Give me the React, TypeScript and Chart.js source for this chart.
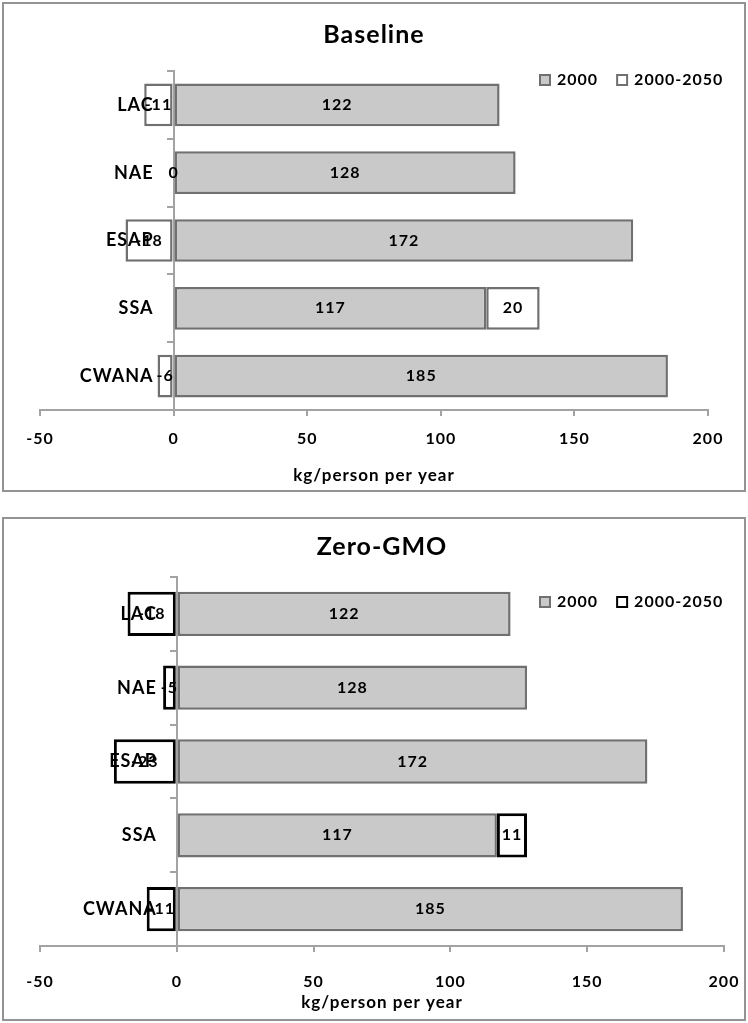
import React, { useEffect, useRef } from 'react';
import { Chart, registerables } from 'chart.js';

Chart.register(...registerables);

// ---- data ----
const regions = ['LAC', 'NAE', 'ESAP', 'SSA', 'CWANA'];
const seriesNames = ['2000', '2000-2050'];
const consumption2000 = [122, 128, 172, 117, 185];
const changeBaseline = [-11, 0, -18, 20, -6];
const changeZeroGmo = [-18, -5, -23, 11, -11];
const xTickValues = [-50, 0, 50, 100, 150, 200];
const axisTitle = 'kg/person per year';

const FONT = 'Lato, "Open Sans", "DejaVu Sans", sans-serif';
const AXIS_GREY = '#a3a3a3';
const BAR_FILL = '#c9c9c9';
const BAR_EDGE = '#707070';

// Excel-like wide text spacing for every string on the canvas
const textSpacing = {
  id: 'textSpacing',
  beforeLayout(chart: any, _a: any, o: any) {
    chart.ctx.letterSpacing = o.value || '0px';
  },
  beforeDraw(chart: any, _a: any, o: any) {
    chart.ctx.letterSpacing = o.value || '0px';
  },
};

// Region names sit left of the zero line
const regionLabels = {
  id: 'regionLabels',
  afterDatasetsDraw(chart: any, _a: any, o: any) {
    const { ctx } = chart;
    const xs = chart.scales.x;
    const ys = chart.scales.y;
    const xRight = xs.getPixelForValue(0) - o.gap;
    ctx.save();
    ctx.font = `bold ${o.size}px ${FONT}`;
    ctx.fillStyle = '#000';
    ctx.textAlign = 'right';
    ctx.textBaseline = 'middle';
    (chart.data.labels as string[]).forEach((lab, i) => {
      ctx.fillText(lab, xRight, ys.getPixelForValue(i));
    });
    ctx.restore();
  },
};

// Value printed in the middle of each bar segment; a zero change sits on the zero line
const barValues = {
  id: 'barValues',
  afterDatasetsDraw(chart: any, _a: any, o: any) {
    const { ctx } = chart;
    const xs = chart.scales.x;
    ctx.save();
    ctx.font = `bold ${o.size}px ${FONT}`;
    ctx.fillStyle = '#000';
    ctx.textAlign = 'center';
    ctx.textBaseline = 'middle';
    chart.data.datasets.forEach((ds: any, di: number) => {
      const meta = chart.getDatasetMeta(di);
      meta.data.forEach((bar: any, i: number) => {
        const v = ds.data[i];
        const { x, y, base } = bar.getProps(['x', 'y', 'base'], true);
        const cx = v === 0 ? xs.getPixelForValue(0) : (x + base) / 2;
        ctx.fillText(String(v), cx, y);
      });
    });
    ctx.restore();
  },
};

// Legend drawn inside the plot, top right
const insideLegend = {
  id: 'insideLegend',
  afterDraw(chart: any, _a: any, o: any) {
    const { ctx } = chart;
    ctx.save();
    ctx.font = `bold ${o.size}px ${FONT}`;
    ctx.textBaseline = 'middle';
    ctx.textAlign = 'left';
    let x = o.x;
    const y = o.y;
    const b = o.box;
    chart.data.datasets.forEach((ds: any) => {
      ctx.fillStyle = ds.backgroundColor;
      ctx.fillRect(x, y - b / 2, b, b);
      ctx.strokeStyle = ds.borderColor;
      ctx.lineWidth = o.boxLine;
      ctx.strokeRect(x + o.boxLine / 2, y - b / 2 + o.boxLine / 2, b - o.boxLine, b - o.boxLine);
      x += b + o.textGap;
      ctx.fillStyle = '#000';
      ctx.fillText(ds.label, x, y);
      x += ctx.measureText(ds.label).width + o.itemGap;
    });
    ctx.restore();
  },
};

type PanelProps = {
  title: string;
  change: number[];
  changeEdge: string;
  changeEdgeWidth: number;
  top: number;
  height: number;
  g: {
    padLeft: number;
    padRight: number;
    titleTop: number;
    titleBottom: number;
    axisHeight: number;
    tickPad: number;
    axisTitlePad: number;
    barPct: number;
    legendY: number;
  };
};

function Panel({ title, change, changeEdge, changeEdgeWidth, top, height, g }: PanelProps) {
  const ref = useRef<HTMLCanvasElement | null>(null);
  const cw = 740;
  const ch = height - 4;

  useEffect(() => {
    if (!ref.current) return;
    const chart = new Chart(ref.current, {
      type: 'bar',
      data: {
        labels: regions,
        datasets: [
          {
            label: seriesNames[0],
            data: consumption2000,
            backgroundColor: BAR_FILL,
            borderColor: BAR_EDGE,
            borderWidth: 2.5,
            borderSkipped: false,
          },
          {
            label: seriesNames[1],
            data: change,
            backgroundColor: '#ffffff',
            borderColor: changeEdge,
            borderWidth: changeEdgeWidth,
            borderSkipped: false,
          },
        ],
      },
      options: {
        indexAxis: 'y',
        responsive: false,
        maintainAspectRatio: false,
        animation: false,
        events: [],
        layout: {
          autoPadding: false,
          padding: { left: g.padLeft, right: g.padRight, top: 0, bottom: 0 },
        },
        datasets: { bar: { categoryPercentage: 1, barPercentage: g.barPct } },
        scales: {
          x: {
            type: 'linear',
            position: 'bottom',
            stacked: true,
            min: xTickValues[0],
            max: xTickValues[xTickValues.length - 1],
            afterBuildTicks: (s: any) => {
              s.ticks = xTickValues.map((v) => ({ value: v }));
            },
            afterFit: (s: any) => {
              // fixed band below the plot; side margins come from layout padding only
              s.height = g.axisHeight;
              s.paddingLeft = 0;
              s.paddingRight = 0;
            },
            grid: { drawOnChartArea: false, tickLength: 6, color: AXIS_GREY, lineWidth: 2 },
            border: { display: true, color: AXIS_GREY, width: 2 },
            ticks: {
              color: '#000',
              font: { family: FONT, size: 16, weight: 'bold' },
              padding: g.tickPad,
              maxRotation: 0,
            },
            title: {
              display: true,
              text: axisTitle,
              color: '#000',
              font: { family: FONT, size: 17, weight: 'bold' },
              padding: { top: 0, bottom: g.axisTitlePad },
            },
          },
          y: {
            type: 'category',
            axis: 'y',
            position: { x: 0 },
            stacked: true,
            grid: { drawOnChartArea: false, tickLength: 6, color: AXIS_GREY, lineWidth: 2, offset: true },
            border: { display: true, color: AXIS_GREY, width: 2 },
            ticks: { display: false },
          },
        },
        plugins: {
          legend: { display: false },
          tooltip: { enabled: false },
          title: {
            display: true,
            text: title,
            color: '#000',
            font: { family: FONT, size: 25, weight: 'bold' },
            padding: { top: g.titleTop, bottom: g.titleBottom },
          },
          textSpacing: { value: '1px' },
          regionLabels: { gap: 20, size: 18 },
          barValues: { size: 16 },
          insideLegend: { x: 535, y: g.legendY, box: 12, boxLine: 2, textGap: 6, itemGap: 18, size: 16 },
        } as any,
      } as any,
      plugins: [textSpacing, regionLabels, barValues, insideLegend],
    });
    return () => chart.destroy();
  }, []);

  return (
    <div
      style={{
        position: 'absolute',
        left: 2,
        top,
        width: 744,
        height,
        border: '2px solid #939393',
        boxSizing: 'border-box',
        background: '#fff',
      }}
    >
      <canvas ref={ref} width={cw} height={ch} style={{ display: 'block', width: cw, height: ch }} />
    </div>
  );
}

export default function App() {
  return (
    <div style={{ position: 'absolute', left: 0, top: 0, width: 748, height: 1023 }}>
      <Panel
        title="Baseline"
        change={changeBaseline}
        changeEdge={BAR_EDGE}
        changeEdgeWidth={2.5}
        top={2}
        height={490}
        g={{
          padLeft: 36,
          padRight: 36,
          titleTop: 16,
          titleBottom: 21,
          axisHeight: 80,
          tickPad: 13,
          axisTitlePad: 4,
          barPct: 0.63,
          legendY: 76,
        }}
      />
      <Panel
        title="Zero-GMO"
        change={changeZeroGmo}
        changeEdge="#000000"
        changeEdgeWidth={3}
        top={517}
        height={504}
        g={{
          padLeft: 36,
          padRight: 20,
          titleTop: 13,
          titleBottom: 15,
          axisHeight: 73,
          tickPad: 20,
          axisTitlePad: 6,
          barPct: 0.6,
          legendY: 83,
        }}
      />
    </div>
  );
}
